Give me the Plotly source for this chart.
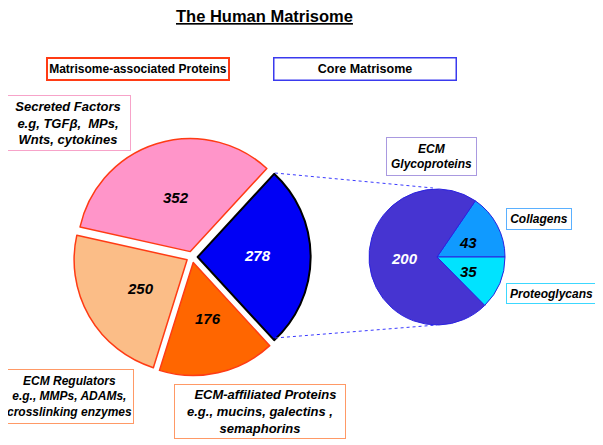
import plotly.graph_objects as go

W, H = 603, 445
OFF = 8  # page body margin in the browser

# ---- data ----
main_labels = ["Core Matrisome", "Secreted Factors", "ECM Regulators", "ECM-affiliated Proteins"]
main_values = [278, 352, 250, 176]
main_colors = ["#0000f5", "#ff95c9", "#fbbd87", "#ff6600"]
main_line = ["#000000", "#ff3b14", "#ff3b14", "#ff3b14"]

core_labels = ["Collagens", "ECM Glycoproteins", "Proteoglycans"]
core_values = [43, 200, 35]
core_colors = ["#109aff", "#4634d1", "#00e3ff"]


def px(x):
    return (x - OFF) / W


def py(y):
    return 1 - (y - OFF) / H


fig = go.Figure()

total = sum(main_values)
# blue wedge centred on 3 o'clock
rot_main = 90 - 180 * main_values[0] / total
# collagens wedge starts at 3 o'clock going counterclockwise
rot_core = 90 - 360 * core_values[0] / sum(core_values)

# big pie
cx, cy, r, pull = 192, 257, 113, 0.05
half = r * (1 + pull)
fig.add_trace(go.Pie(
    labels=main_labels, values=main_values, sort=False,
    direction="counterclockwise", rotation=rot_main,
    pull=[pull] * 4,
    marker=dict(colors=main_colors, line=dict(color=main_line, width=[2, 1.5, 1.5, 1.5])),
    textinfo="none", hoverinfo="label+value", showlegend=False,
    domain=dict(x=[px(cx - half), px(cx + half)], y=[py(cy + half), py(cy - half)]),
))

# small pie
sx, sy, sr = 437, 257, 68
fig.add_trace(go.Pie(
    labels=core_labels, values=core_values, sort=False,
    direction="counterclockwise", rotation=rot_core,
    marker=dict(colors=core_colors, line=dict(color="#2a22e0", width=1)),
    textinfo="none", hoverinfo="label+value", showlegend=False,
    domain=dict(x=[px(sx - sr), px(sx + sr)], y=[py(sy + sr), py(sy - sr)]),
))

NUM_FONT = dict(family="Liberation Sans, Arial", size=15)
anns = []


def num(x, y, v, color="black"):
    anns.append(dict(x=px(x), y=py(y), xref="paper", yref="paper", showarrow=False,
                     xanchor="center", yanchor="middle",
                     text=f"<b><i>{v}</i></b>", font=dict(NUM_FONT, color=color)))


num(257, 256, main_values[0], "white")
num(176, 197, main_values[1])
num(140, 288, main_values[2])
num(208, 318, main_values[3])
num(404, 258, core_values[1], "white")
num(468, 242, core_values[0])
num(468, 271, core_values[2])


def box(x0, y0, x1, y1, text, color, bw=1, size=12, family="Liberation Sans, Arial"):
    anns.append(dict(x=px((x0 + x1) / 2), y=py((y0 + y1) / 2), xref="paper", yref="paper",
                     xanchor="center", yanchor="middle",
                     showarrow=False, text=text, align="center",
                     width=(x1 - x0) - 2 * bw - 2, height=(y1 - y0) - 2 * bw - 2,
                     borderpad=1, bordercolor=color, borderwidth=bw, bgcolor="white",
                     font=dict(family=family, size=size, color="black")))


box(46, 57, 230, 81, "<b>Matrisome-associated Proteins</b>", "#ff3b14", bw=2, size=12)
box(273, 57, 457, 81, "<b>Core Matrisome</b>", "#3a3aee", bw=1.5, size=12.5)
box(5, 95, 131, 151, "<b><i>Secreted Factors<br>e.g, TGFβ,  MPs,<br>Wnts, cytokines</i></b>", "#f7a3c9", size=13)
box(5, 369, 134, 424, "<b><i>ECM Regulators<br>e.g., MMPs, ADAMs,<br>crosslinking enzymes</i></b>", "#ff9966", size=12)
box(174, 384, 346, 439, "<b><i>   ECM-affiliated Proteins<br>e.g., mucins, galectins ,<br>semaphorins</i></b>", "#ff9966", size=13)
box(386, 137, 477, 176, "<b><i>ECM<br>Glycoproteins</i></b>", "#a999e0", size=12)
box(506, 208, 572, 230, "<b><i>Collagens</i></b>", "#5ab0ff", size=12)
box(506, 283, 597, 304, "<b><i>Proteoglycans</i></b>", "#3cd8ff", size=12)

# title
anns.append(dict(x=px(264), y=py(16), xref="paper", yref="paper", showarrow=False,
                 xanchor="center", yanchor="middle",
                 text="<b><u>The Human Matrisome</u></b>",
                 font=dict(family="Liberation Sans, Arial", size=16.5, color="black")))

shapes = [
    dict(type="line", xref="paper", yref="paper", x0=px(275), y0=py(173), x1=px(433), y1=py(188),
         line=dict(color="#3a3aff", width=1, dash="dot")),
    dict(type="line", xref="paper", yref="paper", x0=px(275), y0=py(338), x1=px(437), y1=py(325),
         line=dict(color="#3a3aff", width=1, dash="dot")),
]

fig.update_layout(width=W, height=H, margin=dict(l=0, r=0, t=0, b=0),
                  paper_bgcolor="white", plot_bgcolor="white",
                  annotations=anns, shapes=shapes, showlegend=False)

fig.write_html("out.html")
